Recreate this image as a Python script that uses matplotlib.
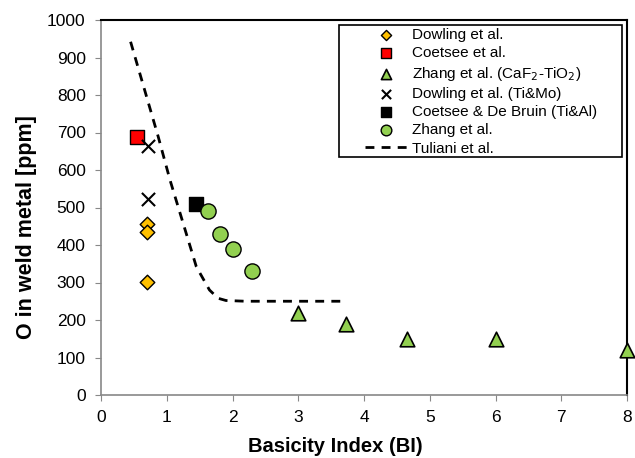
import matplotlib
matplotlib.use('Agg')
import matplotlib.pyplot as plt
from matplotlib.patches import Rectangle

plt.rcParams['font.family'] = ['Liberation Sans', 'DejaVu Sans']

# data
dowling_x = [0.7, 0.7, 0.7]
dowling_y = [455, 435, 302]
coetsee_x = [0.55]
coetsee_y = [688]
zhang_tri_x = [3.0, 3.72, 4.66, 6.0, 8.0]
zhang_tri_y = [220, 190, 150, 150, 120]
dowling_timo_x = [0.72, 0.72]
dowling_timo_y = [663, 523]
coetsee_tial_x = [1.44]
coetsee_tial_y = [510]
zhang_x = [1.62, 1.81, 2.01, 2.29]
zhang_y = [490, 430, 390, 330]
tuliani_x = [0.45, 0.87, 1.05, 1.45, 1.65, 1.78, 1.9, 2.2, 3.65]
tuliani_y = [942, 689, 573, 342, 280, 258, 252, 250, 250]

W, H = 635, 458
fig = plt.figure(figsize=(W / 100, H / 100), dpi=100)
ax = fig.add_axes([101 / W, 1 - 395 / H, 526 / W, 375 / H])

ax.plot(tuliani_x, tuliani_y, ls=(0, (3.2, 2.6)), color='black', lw=2,
        label='Tuliani et al.', zorder=2)
ax.scatter(dowling_x, dowling_y, marker='D', s=55, c='#ffc000',
           edgecolors='black', linewidths=1, label='Dowling et al.', zorder=3)
ax.scatter(coetsee_x, coetsee_y, marker='s', s=110, c='#ff0000',
           edgecolors='black', linewidths=1, label='Coetsee et al.', zorder=3)
ax.scatter(zhang_tri_x, zhang_tri_y, marker='^', s=110, c='#92d050',
           edgecolors='black', linewidths=1.2, clip_on=False,
           label='Zhang et al. (CaF$_2$-TiO$_2$)', zorder=4)
ax.scatter(dowling_timo_x, dowling_timo_y, marker='x', s=90, c='black',
           linewidths=1.5, label='Dowling et al. (Ti&Mo)', zorder=3)
ax.scatter(coetsee_tial_x, coetsee_tial_y, marker='s', s=110, c='black',
           edgecolors='black', linewidths=1, label='Coetsee & De Bruin (Ti&Al)', zorder=3)
ax.scatter(zhang_x, zhang_y, marker='o', s=120, c='#92d050',
           edgecolors='black', linewidths=1, label='Zhang et al.', zorder=3)

ax.set_xlim(0, 8)
ax.set_ylim(0, 1000)
ax.set_xticks(range(0, 9))
ax.set_yticks(range(0, 1001, 100))
ax.tick_params(direction='out', length=4, color='#888888', labelsize=12.5, pad=7)
ax.set_xlabel('Basicity Index (BI)', fontsize=14.5, fontweight='bold')
ax.set_ylabel('O in weld metal [ppm]', fontsize=15.5, fontweight='bold')
ax.xaxis.set_label_coords((335 - 101) / 526, -0.113)
ax.yaxis.set_label_coords(-0.122, (395 - 227) / 375)

for s in ['left', 'bottom']:
    ax.spines[s].set_color('#888888')
    ax.spines[s].set_linewidth(1.2)
for s in ['top', 'right']:
    ax.spines[s].set_color('black')
    ax.spines[s].set_linewidth(1.5)

# legend: box drawn separately to match the wide frame of the original
handles, labels = ax.get_legend_handles_labels()
order = [1, 2, 3, 4, 5, 6, 0]
leg = ax.legend([handles[i] for i in order], [labels[i] for i in order],
                loc='upper left', bbox_to_anchor=(365 / W, 1 - 28 / H),
                bbox_transform=fig.transFigure, fontsize=11, frameon=False,
                borderpad=0, labelspacing=0.28, handlelength=2.8,
                handletextpad=0.25, borderaxespad=0, markerscale=0.7)
fig.patches.append(Rectangle((339 / W, 1 - 157 / H), 283 / W, 132 / H,
                             transform=fig.transFigure, fill=False,
                             edgecolor='black', lw=1.2, zorder=5))

fig.savefig('out.png', dpi=100)
